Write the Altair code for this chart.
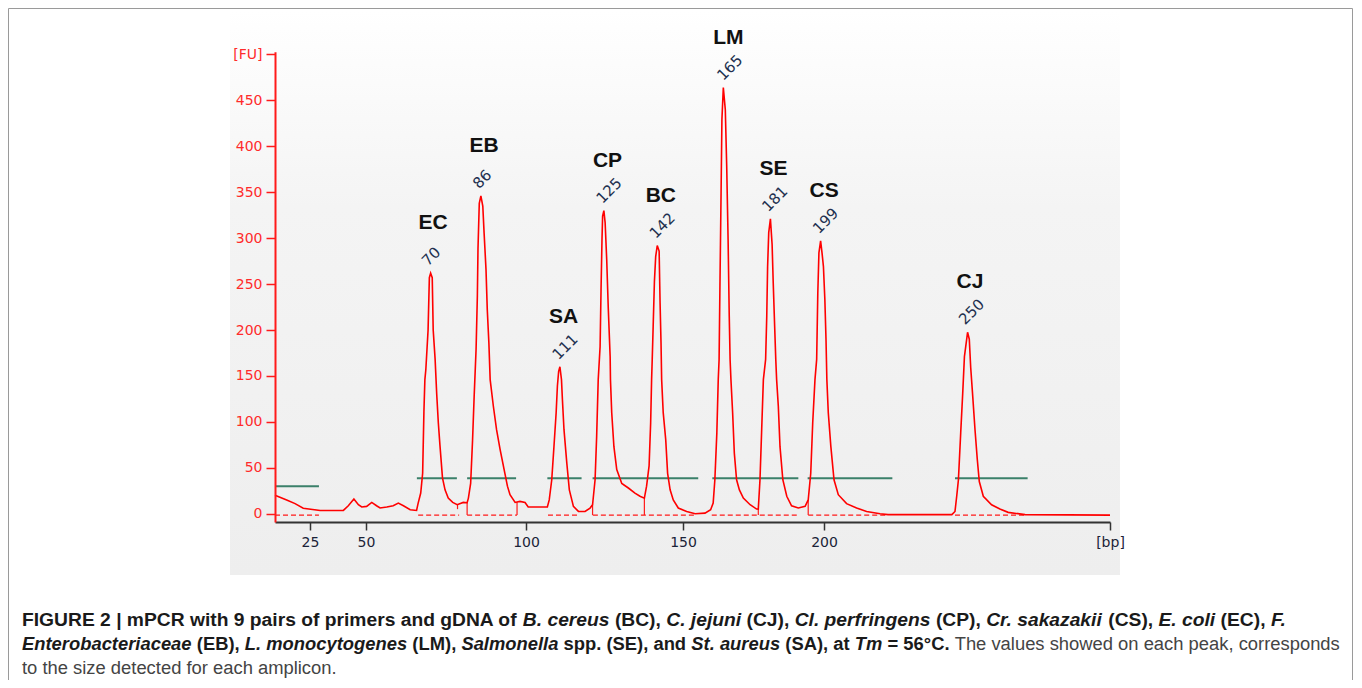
import altair as alt
import pandas as pd

# ---------------- data ----------------
trace_bp = [10.0, 15.0, 18.6, 22.1, 29.5, 39.9, 42.1, 44.6, 46.6, 48.1, 50.2, 51.8, 53.3, 54.4,
            56.5, 58.5, 60.1, 61.7, 63.8, 65.8, 66.3, 67.1, 67.7, 68.1, 68.4, 68.7, 69.4, 69.8,
            70.2, 70.7, 71.0, 71.6, 72.1, 72.6, 73.1, 73.9, 74.7, 75.7, 77.1, 78.5, 80.4, 81.6,
            82.0, 82.7, 83.3, 83.8, 84.4, 84.8, 85.0, 85.4, 85.9, 86.5, 86.9, 87.5, 87.9, 88.4,
            88.8, 89.8, 90.8, 91.9, 93.4, 94.2, 95.0, 96.6, 98.1, 99.7, 100.7, 106.8, 107.4,
            108.2, 108.9, 109.6, 110.0, 110.4, 110.8, 111.3, 111.6, 112.1, 113.0, 113.8, 115.1,
            116.7, 118.8, 120.4, 121.2, 122.0, 122.5, 123.0, 123.6, 123.9, 124.2, 124.4, 124.8,
            125.2, 125.7, 126.2, 126.8, 126.9, 127.3, 128.0, 128.9, 130.5, 132.6, 134.7, 136.3,
            137.7, 138.4, 139.2, 139.7, 140.0, 140.2, 140.5, 140.9, 141.3, 141.8, 142.4, 142.7,
            143.0, 143.2, 143.7, 144.5, 145.1, 145.9, 146.9, 148.5, 151.3, 154.3, 157.8, 159.8,
            160.7, 161.3, 162.0, 162.5, 162.8, 163.1, 163.5, 163.8, 164.3, 165.0, 165.5, 166.0,
            166.4, 166.7, 167.0, 167.6, 168.2, 169.0, 170.0, 171.4, 173.8, 176.1, 176.7, 177.3,
            177.9, 178.5, 179.3, 179.7, 180.0, 180.4, 181.0, 181.6, 182.0, 182.5, 182.9, 183.2,
            183.8, 184.4, 185.4, 186.8, 188.5, 190.9, 193.3, 194.4, 195.3, 196.0, 196.8, 197.4,
            197.8, 198.2, 198.8, 199.3, 199.8, 200.3, 200.7, 201.0, 201.5, 202.4, 203.5, 205.0,
            207.9, 211.4, 214.9, 219.6, 222.4, 244.7, 245.8, 246.4, 247.0, 247.8, 248.5, 249.1,
            250.2, 250.8, 251.3, 252.0, 252.8, 253.6, 254.3, 255.7, 258.6, 261.5, 264.4, 270.3,
            300.0]
trace_fu = [20, 15, 11, 6, 3.6, 3.6, 8.7, 16, 9.8, 7.3, 8, 12.3, 8.7, 6.2,
            7.3, 8.7, 11.6, 8.7, 4.4, 3.6, 11.6, 22.5, 44, 111, 146, 157, 200, 257,
            262, 257, 200, 168, 130, 99, 75, 39, 26, 17, 12.3, 9.8, 12.3, 12,
            17, 33, 80, 128, 179, 237, 289, 338, 346, 335, 306, 266, 222, 186,
            146, 117, 91.5, 70, 44, 30, 20.7, 12.3, 13.4, 12.3, 7.3, 7.3, 15,
            37, 73, 110, 139, 155, 160, 146, 124, 91.5, 55, 26, 8,
            2.5, 2.5, 6.2, 9.8, 37, 84, 146, 182, 244, 298, 324, 330,
            317, 277, 224, 171, 146, 110, 73, 48, 33, 28, 22.5, 19,
            17, 30, 52, 99, 146, 168, 204, 253, 280, 292, 286, 229.5,
            186, 146, 110, 80.6, 44, 26, 15, 6.2, 2.5, 0, 0.7, 4.4,
            11.6, 37, 88, 146, 168, 248, 349, 429, 464, 440, 378, 297,
            215, 168, 146, 110, 66, 37, 26, 17, 9.8, 5.1, 5, 37,
            91.5, 146, 168, 215, 269, 306, 321, 293, 251, 204, 168, 146,
            117, 73, 37, 19, 8.7, 6.2, 8, 15, 44, 99, 146, 168,
            240, 284, 297, 284, 269, 233, 190, 146, 110, 73, 37, 20.7,
            11, 6.2, 2.5, 0, -1, -1, 2.5, 19, 37, 88, 131, 171,
            197.5, 190, 159, 128, 91.5, 59, 35, 19, 9.8, 5.1, 1.5, -1,
            -1.5]

peak_names = ["EC", "EB", "SA", "CP", "BC", "LM", "SE", "CS", "CJ"]
peak_sizes = [70, 86, 111, 125, 142, 165, 181, 199, 250]
peak_heights = [262, 346, 160, 330, 292, 464, 321, 297, 198]

green_start = [10, 65.9, 81.6, 106.8, 121.2, 160.4, 194.2, 245.8]
green_end = [29.0, 78.4, 96.9, 117.7, 155.4, 190.9, 223.9, 271.2]
green_level = [30, 38.5, 38.5, 38.5, 38.5, 38.5, 38.5, 38.5]

dash_start = [10, 66.3, 81.6, 107.0, 121.3, 160.2, 194.4, 245.8]
dash_end = [29.0, 79.1, 97.2, 117.2, 154.3, 191.2, 222.4, 270.3]
dash_level = [-1.5] * 8

marker_bp = [78.6, 81.6, 97.2, 121.2, 137.7, 176.7, 194.4]
marker_top = [9.8, 12, 12.5, 9.8, 17, 5, 15]
marker_bottom = [5, -1.5, -1.5, -1.5, -1.5, -1.5, -1.5]

x_ticks = [25, 50, 100, 150, 200, 300]
y_ticks = [0, 50, 100, 150, 200, 250, 300, 350, 400, 450, 500]

# axis knots of the (non-linear) size axis
x_knots_bp = [10, 25, 50, 100, 150, 200, 300]
x_knots_px = [45, 80, 136, 296, 453, 594, 880]

caption_lines = [
    [("FIGURE 2 | mPCR with 9 pairs of primers and gDNA of ", "b"), ("B. cereus", "bi"), (" (BC), ", "b"),
     ("C. jejuni", "bi"), (" (CJ), ", "b"), ("Cl. perfringens", "bi"), (" (CP), ", "b"),
     ("Cr. sakazakii", "bi"), (" (CS), ", "b"), ("E. coli", "bi"), (" (EC), ", "b"), ("F.", "bi")],
    [("Enterobacteriaceae", "bi"), (" (EB), ", "b"), ("L. monocytogenes", "bi"), (" (LM), ", "b"),
     ("Salmonella", "bi"), (" spp. (SE), and ", "b"), ("St. aureus", "bi"), (" (SA), at ", "b"),
     ("Tm", "bi"), (" = 56°C.", "b"), (" The values showed on each peak, corresponds", "r")],
    [("to the size detected for each amplicon.", "r")],
]

# ---------------- layout ----------------
W, H = 890, 565
PAD = {"left": 222, "top": 2, "right": 234, "bottom": 105}

# Arial / Liberation Sans advance widths (1/1000 em) for caption layout
REG = {" ": 278, "(": 333, ")": 333, ",": 278, ".": 278, "=": 584, "°": 400, "|": 260}
BOLD = {" ": 278, "(": 333, ")": 333, ",": 278, ".": 278, "=": 584, "°": 400, "|": 280}
for d in "0123456789":
    REG[d] = 556
    BOLD[d] = 556
REG.update(dict(zip("ABCDEFGHIJKLMNOPQRSTUVWXYZ",
                    [667, 667, 722, 722, 667, 611, 778, 722, 278, 500, 667, 556, 833, 722, 778, 667, 778, 722, 667, 611, 722, 667, 944, 667, 667, 611])))
REG.update(dict(zip("abcdefghijklmnopqrstuvwxyz",
                    [556, 556, 500, 556, 556, 278, 556, 556, 222, 222, 500, 222, 833, 556, 556, 556, 556, 333, 500, 278, 556, 500, 722, 500, 500, 500])))
BOLD.update(dict(zip("ABCDEFGHIJKLMNOPQRSTUVWXYZ",
                     [722, 722, 722, 722, 667, 611, 778, 722, 278, 556, 722, 611, 833, 722, 778, 667, 778, 722, 667, 611, 722, 667, 944, 667, 667, 611])))
BOLD.update(dict(zip("abcdefghijklmnopqrstuvwxyz",
                     [556, 611, 556, 611, 556, 333, 611, 611, 278, 278, 556, 278, 889, 611, 611, 611, 611, 389, 556, 333, 611, 556, 778, 556, 556, 500])))


def seg_em(text, style):
    table = REG if style == "r" else BOLD
    return sum(table.get(ch, 556) for ch in text) / 1000.0


line_em = [sum(seg_em(t, s) for t, s in line) for line in caption_lines]
line_target = [1266, 1318, None]
size2 = line_target[1] / line_em[1]
cap_sizes = [line_target[0] / line_em[0], size2, size2]
cap_x0 = -208
cap_y = [616, 640, 664]

xscale = alt.Scale(domain=x_knots_bp, range=x_knots_px, nice=False, zero=False)
yscale = alt.Scale(domain=[-9, 503], range=[512, 41.7], nice=False, zero=False)

xaxis = alt.Axis(values=x_ticks, labelExpr="datum.value == 300 ? '[bp]' : datum.label",
                 title=None, grid=False, offset=-53, zindex=2, domainColor="#333333", domainWidth=2,
                 tickColor="#333333", tickSize=8, tickWidth=1.5, labelColor="#1b2338",
                 labelFont="DejaVu Sans", labelFontSize=14, labelPadding=5,
                 labelFlush=False, labelOverlap=False)
yaxis = alt.Axis(values=y_ticks, labelExpr="datum.value == 500 ? '[FU]' : datum.label",
                 title=None, grid=False, offset=-45, zindex=2, domainColor="#ff1a1a", domainWidth=2,
                 tickColor="#ff1a1a", tickSize=9, tickWidth=1.5, labelColor="#ff2b2b",
                 labelFont="DejaVu Sans", labelFontSize=14, labelPadding=4,
                 labelFlush=False, labelOverlap=False)

trace_df = pd.DataFrame({"bp": trace_bp, "fu": trace_fu})
peaks_df = pd.DataFrame({"name": peak_names, "size": peak_sizes, "height": peak_heights,
                         "size_label": [str(s) for s in peak_sizes]})
green_df = pd.DataFrame({"x": green_start, "x2": green_end, "y": green_level})
dash_df = pd.DataFrame({"x": dash_start, "x2": dash_end, "y": dash_level})
marker_df = pd.DataFrame({"x": marker_bp, "y": marker_top, "y2": marker_bottom})

panel = alt.Chart(alt.Data(values=[{}])).mark_rect(
    color=alt.LinearGradient(gradient="linear", x1=0, x2=0, y1=0, y2=1,
                             stops=[alt.GradientStop(color="#ffffff", offset=0),
                                    alt.GradientStop(color="#f4f4f4", offset=0.35),
                                    alt.GradientStop(color="#eeeeee", offset=1)])
).encode(x=alt.value(0), x2=alt.value(W), y=alt.value(0), y2=alt.value(H))

frame = alt.Chart(alt.Data(values=[{}])).mark_rect(
    fillOpacity=0, stroke="#9a9a9a", strokeWidth=1
).encode(x=alt.value(-PAD["left"] + 0.5), x2=alt.value(W + PAD["right"] - 1.5),
         y=alt.value(-PAD["top"] + 0.5), y2=alt.value(H + PAD["bottom"] + 20))

green = alt.Chart(green_df).mark_rule(color="#3b806a", strokeWidth=2).encode(
    x=alt.X("x:Q", scale=xscale), x2="x2:Q", y=alt.Y("y:Q", scale=yscale))
dashed = alt.Chart(dash_df).mark_rule(color="#ff1a1a", strokeWidth=1.3, strokeDash=[5, 3]).encode(
    x=alt.X("x:Q", scale=xscale), x2="x2:Q", y=alt.Y("y:Q", scale=yscale))
markers = alt.Chart(marker_df).mark_rule(color="#ff1a1a", strokeWidth=1.2).encode(
    x=alt.X("x:Q", scale=xscale), y=alt.Y("y:Q", scale=yscale), y2="y2:Q")

trace = alt.Chart(trace_df).mark_line(color="#ff0000", strokeWidth=1.6).encode(
    x=alt.X("bp:Q", scale=xscale, axis=xaxis),
    y=alt.Y("fu:Q", scale=yscale, axis=yaxis),
    order="bp:Q")

names = alt.Chart(peaks_df).mark_text(
    font="Liberation Sans", fontWeight="bold", fontSize=21, color="#111111",
    dx=3, dy=-50, baseline="middle", align="center"
).encode(x=alt.X("size:Q", scale=xscale), y=alt.Y("height:Q", scale=yscale), text="name:N")

sizes = alt.Chart(peaks_df).mark_text(
    font="DejaVu Sans", fontSize=15, color="#22304f", angle=315,
    align="left", baseline="alphabetic", dx=3, dy=-6
).encode(x=alt.X("size:Q", scale=xscale), y=alt.Y("height:Q", scale=yscale), text="size_label:N")

layers = [panel, frame, green, dashed, markers, trace, names, sizes]

for li, line in enumerate(caption_lines):
    cursor = 0.0
    size = cap_sizes[li]
    for text, style in line:
        lead = len(text) - len(text.lstrip(" "))
        stripped = text.strip(" ")
        xpos = cap_x0 + (cursor + seg_em(text[:lead], style)) * size
        cursor += seg_em(text, style)
        props = dict(text=stripped, font="Liberation Sans", fontSize=size,
                     align="left", baseline="alphabetic",
                     color="#444444" if style == "r" else "#1a1a1a")
        if style in ("b", "bi"):
            props["fontWeight"] = "bold"
        if style == "bi":
            props["fontStyle"] = "italic"
        layers.append(alt.Chart(alt.Data(values=[{}])).mark_text(**props).encode(
            x=alt.value(xpos), y=alt.value(cap_y[li])))

chart = alt.layer(*layers).properties(
    width=W, height=H, padding=PAD,
    autosize=alt.AutoSizeParams(type="none"),
    background="white"
).configure_view(stroke=None)

chart.save("out.html", embed_options={"renderer": "svg", "actions": False})
